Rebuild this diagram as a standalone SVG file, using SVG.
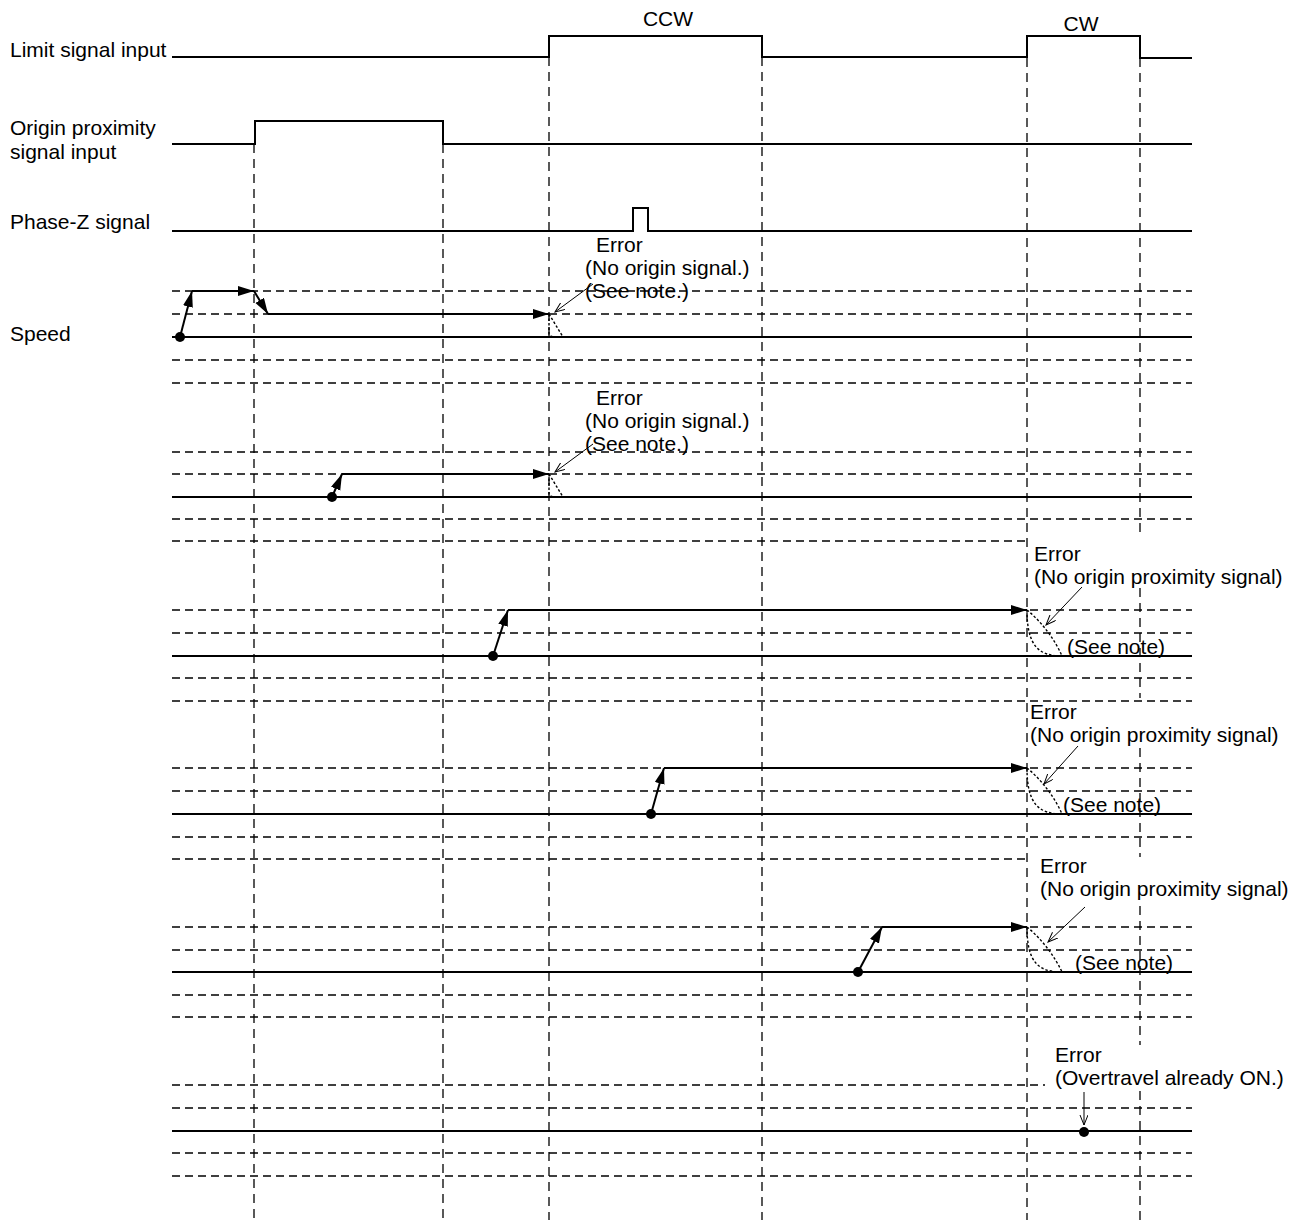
<svg xmlns="http://www.w3.org/2000/svg" width="1303" height="1220" viewBox="0 0 1303 1220">
<style>
text{font-family:"Liberation Sans",Arial,sans-serif;font-size:21px;fill:#000}
.sig{fill:none;stroke:#000;stroke-width:2}
.base{fill:none;stroke:#000;stroke-width:2}
.grid{fill:none;stroke:#000;stroke-width:1.3;stroke-dasharray:8 5}
.vgrid{fill:none;stroke:#000;stroke-width:1.3;stroke-dasharray:9 6}
.prof{fill:none;stroke:#000;stroke-width:2;marker-end:url(#ah)}
.dec{fill:none;stroke:#000;stroke-width:1.4;stroke-dasharray:2.5 2}
.note{fill:none;stroke:#000;stroke-width:1;marker-end:url(#thin)}
</style>
<defs>
<marker id="ah" markerUnits="userSpaceOnUse" markerWidth="18" markerHeight="12" refX="16" refY="5" orient="auto"><path d="M0,0 L16,5 L0,10 z" fill="#000"/></marker>
<marker id="thin" markerUnits="userSpaceOnUse" markerWidth="12" markerHeight="10" refX="10" refY="4" orient="auto"><path d="M0,0 L10,4 L0,8" fill="none" stroke="#000" stroke-width="1"/></marker>
</defs>
<rect width="1303" height="1220" fill="#fff"/>

<g id="labels">
<text x="10" y="57">Limit signal input</text>
<text x="10" y="135">Origin proximity</text>
<text x="10" y="159">signal input</text>
<text x="10" y="229">Phase-Z signal</text>
<text x="10" y="341">Speed</text>
<text x="668" y="26" text-anchor="middle">CCW</text>
<text x="1081" y="31" text-anchor="middle">CW</text>
</g>

<g id="grid">
<path class="vgrid" d="M254,144 V1220 M443,144 V1220 M549,57 V1220 M762,57 V1220 M1027,58 V1220"/>
<path class="vgrid" d="M1140,58 V537 M1140,588 V698 M1140,748 V857 M1140,906 V1045 M1140,1091 V1220"/>
<path class="grid" d="M172,291 H1192 M172,314 H1192 M172,360 H1192 M172,383 H1192
M172,452 H1192 M172,474 H1192 M172,519 H1192 M172,541 H1027
M172,610 H1192 M172,633 H1192 M172,678 H1192 M172,701 H1192
M172,768 H1192 M172,791 H1192 M172,837 H1192 M172,859 H1027
M172,927 H1192 M172,950 H1192 M172,995 H1192 M172,1017 H1192
M172,1085 H1045 M172,1108 H1192 M172,1153 H1192 M172,1176 H1192"/>
</g>

<g id="limit-signal"><path class="sig" d="M172,57 H549 V36 H762 V57 H1027 V36 H1140 V58 H1192"/></g>
<g id="origin-proximity-signal"><path class="sig" d="M172,144 H255 V121 H443 V144 H1192"/></g>
<g id="phase-z-signal"><path class="sig" d="M172,231 H633 V208 H648 V231 H1192"/></g>

<g id="speed-1">
<path class="base" d="M172,337 H1192"/>
<circle cx="180" cy="337" r="5"/>
<path class="prof" d="M180,337 L192,291"/>
<path class="prof" d="M192,291 L254,291"/>
<path class="prof" d="M254,291 L268,314"/>
<path class="prof" d="M268,314 L549,314"/>
<path class="dec" d="M549,314 L549,334 Q550,337 556,337 M549,314 L563,337"/>
</g>
<g id="error-1">
<text x="596" y="252">Error</text>
<text x="585" y="275">(No origin signal.)</text>
<text x="585" y="298">(See note.)</text>
<path class="note" d="M593,284 L555,312"/>
</g>

<g id="speed-2">
<path class="base" d="M172,497 H1192"/>
<circle cx="332" cy="497" r="5"/>
<path class="prof" d="M332,497 L342,474"/>
<path class="prof" d="M342,474 L549,474"/>
<path class="dec" d="M549,474 L549,494 Q550,497 556,497 M549,474 L563,497"/>
</g>
<g id="error-2">
<text x="596" y="405">Error</text>
<text x="585" y="428">(No origin signal.)</text>
<text x="585" y="451">(See note.)</text>
<path class="note" d="M593,444 L555,472"/>
</g>

<g id="speed-3">
<path class="base" d="M172,656 H1192"/>
<circle cx="493" cy="656" r="5"/>
<path class="prof" d="M493,656 L508,610"/>
<path class="prof" d="M508,610 L1027,610"/>
<path class="dec" d="M1027,610 C1027,645 1038,656 1062,656 M1027,610 C1042,622 1055,640 1062,656"/>
</g>
<g id="error-3">
<text x="1034" y="561">Error</text>
<text x="1034" y="584">(No origin proximity signal)</text>
<text x="1067" y="654">(See note)</text>
<path class="note" d="M1082,587 L1046,625"/>
</g>

<g id="speed-4">
<path class="base" d="M172,814 H1192"/>
<circle cx="651" cy="814" r="5"/>
<path class="prof" d="M651,814 L664,768"/>
<path class="prof" d="M664,768 L1027,768"/>
<path class="dec" d="M1027,768 C1027,803 1038,814 1062,814 M1027,768 C1042,780 1055,798 1062,814"/>
</g>
<g id="error-4">
<text x="1030" y="719">Error</text>
<text x="1030" y="742">(No origin proximity signal)</text>
<text x="1063" y="812">(See note)</text>
<path class="note" d="M1078,746 L1044,784"/>
</g>

<g id="speed-5">
<path class="base" d="M172,972 H1192"/>
<circle cx="858" cy="972" r="5"/>
<path class="prof" d="M858,972 L882,927"/>
<path class="prof" d="M882,927 L1027,927"/>
<path class="dec" d="M1027,927 C1027,962 1038,972 1062,972 M1027,927 C1042,939 1055,957 1062,972"/>
</g>
<g id="error-5">
<text x="1040" y="873">Error</text>
<text x="1040" y="896">(No origin proximity signal)</text>
<text x="1075" y="970">(See note)</text>
<path class="note" d="M1085,907 L1048,942"/>
</g>

<g id="speed-6">
<path class="base" d="M172,1131 H1192"/>
<circle cx="1084" cy="1132" r="5"/>
</g>
<g id="error-6">
<text x="1055" y="1062">Error</text>
<text x="1055" y="1085">(Overtravel already ON.)</text>
<path class="note" d="M1084,1092 L1084,1125"/>
</g>
</svg>
